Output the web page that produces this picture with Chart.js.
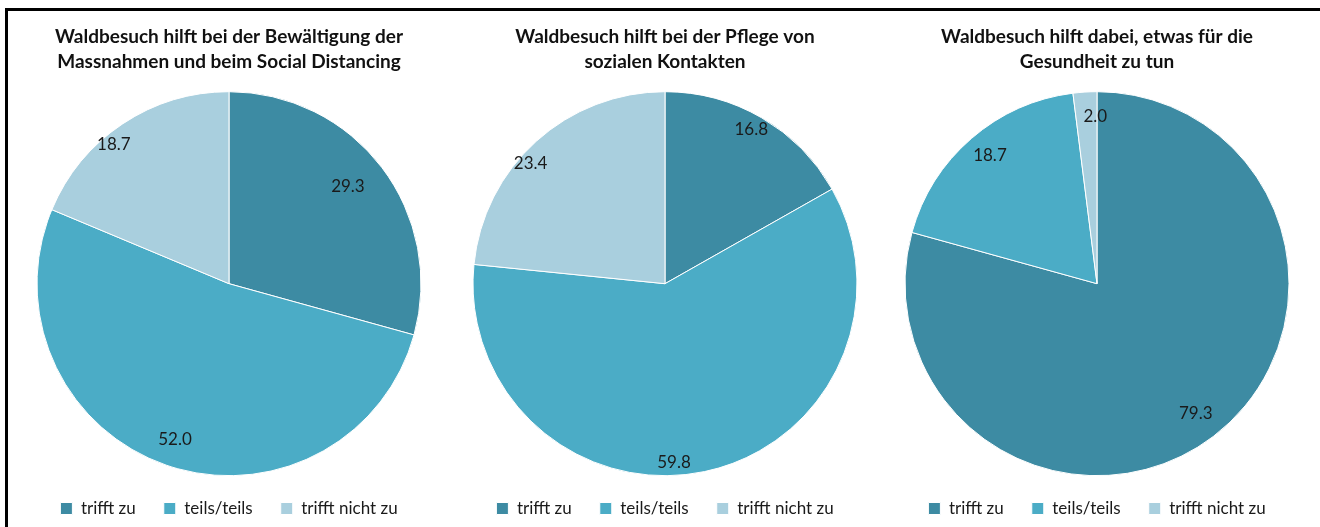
<!DOCTYPE html>
<html>
<head>
<meta charset="utf-8">
<script src="https://cdn.jsdelivr.net/npm/chart.js@4.4.0/dist/chart.umd.min.js"></script>
<style>
  html, body { margin: 0; padding: 0; background: #fff; width: 1320px; height: 527px; overflow: hidden; }
  #frame { position: absolute; left: 5px; top: 8px; width: 1320px; height: 530px; border-left: 3px solid #000; border-top: 3px solid #000; }
  .panel { position: absolute; top: 0; width: 440px; height: 527px; }
</style>
</head>
<body>
<div id="frame"></div>
<div class="panel" style="left:9px"><canvas id="c0"></canvas></div>
<div class="panel" style="left:445px"><canvas id="c1"></canvas></div>
<div class="panel" style="left:877px"><canvas id="c2"></canvas></div>
<script>
const categories = ["trifft zu", "teils/teils", "trifft nicht zu"];
const colors = ["#3d8ba3", "#4bacc6", "#a9cfde"];

const titles = [
  ["Waldbesuch hilft bei der Bewältigung der", "Massnahmen und beim Social Distancing"],
  ["Waldbesuch hilft bei der Pflege von", "sozialen Kontakten"],
  ["Waldbesuch hilft dabei, etwas für die", "Gesundheit zu tun"]
];

const massnahmen = [29.3, 52.0, 18.7];
const kontakte = [16.8, 59.8, 23.4];
const gesundheit = [79.3, 18.7, 2.0];
const series = [massnahmen, kontakte, gesundheit];

// where the value labels sit: fraction of radius and angle tweak (deg)
const labelRadius = [[0.80, 0.86, 0.94], [0.92, 0.93, 0.94], [0.85, 0.87, 0.87]];
const labelShift = [[-2, 0, -6], [-1, 9, -6], [0, 1, 3]];

const FONT = "Lato, 'Open Sans', sans-serif";

const valueLabels = {
  id: "valueLabels",
  afterDatasetsDraw(chart, args, opts) {
    const ctx = chart.ctx;
    const meta = chart.getDatasetMeta(0);
    ctx.save();
    ctx.font = "17px " + FONT;
    ctx.fillStyle = "#1a1a1a";
    ctx.textAlign = "center";
    ctx.textBaseline = "middle";
    meta.data.forEach((arc, i) => {
      const p = arc.getProps(["x", "y", "startAngle", "endAngle", "outerRadius"], true);
      const mid = (p.startAngle + p.endAngle) / 2 + opts.shift[i] * Math.PI / 180;
      const r = p.outerRadius * opts.radius[i];
      const v = chart.data.datasets[0].data[i];
      ctx.fillText(v.toFixed(1), p.x + Math.cos(mid) * r, p.y + Math.sin(mid) * r);
    });
    ctx.restore();
  }
};

series.forEach((values, k) => {
  new Chart(document.getElementById("c" + k), {
    type: "pie",
    data: {
      labels: categories,
      datasets: [{
        data: values,
        backgroundColor: colors,
        borderColor: "#ffffff",
        borderWidth: 1,
        radius: 192
      }]
    },
    options: {
      responsive: true,
      maintainAspectRatio: false,
      animation: false,
      layout: { padding: 0 },
      plugins: {
        title: {
          display: true,
          text: titles[k],
          color: "#111",
          font: { family: FONT, size: 19, weight: "bold", lineHeight: 1.3 },
          padding: { top: 25, bottom: 21 }
        },
        legend: {
          position: "bottom",
          labels: {
            color: "#1a1a1a",
            font: { family: FONT, size: 17 },
            boxWidth: 12,
            boxHeight: 12,
            padding: 28
          }
        },
        tooltip: { enabled: false },
        valueLabels: { radius: labelRadius[k], shift: labelShift[k] }
      }
    },
    plugins: [valueLabels]
  });
});
</script>
</body>
</html>
